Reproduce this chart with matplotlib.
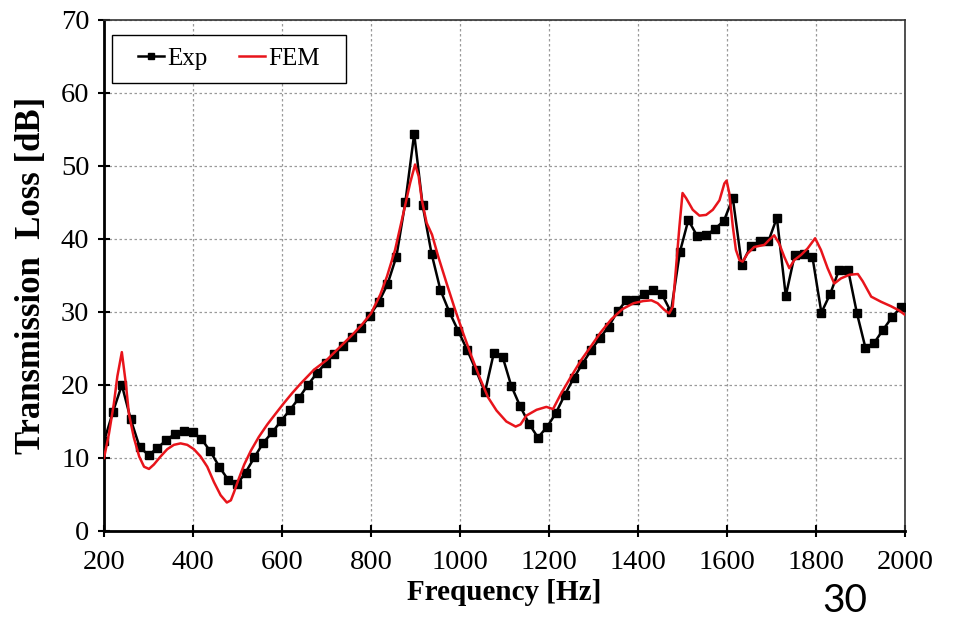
import matplotlib
matplotlib.use("Agg")
import matplotlib.pyplot as plt
from matplotlib.patches import Rectangle

# Measured transmission loss (markers every ~20 Hz)
exp_freq = [200, 220, 240, 260, 280, 300, 319, 339, 359, 379, 399, 419, 439, 459, 479,
            499, 518, 538, 558, 578, 598, 618, 638, 658, 678, 698, 717, 737, 757, 777,
            797, 817, 837, 857, 877, 897, 916, 936, 956, 976, 996, 1016, 1036, 1056,
            1076, 1096, 1115, 1135, 1155, 1175, 1195, 1215, 1235, 1255, 1275, 1295,
            1314, 1334, 1354, 1374, 1394, 1414, 1434, 1454, 1474, 1494, 1513, 1533,
            1553, 1573, 1593, 1613, 1633, 1653, 1673, 1693, 1712, 1732, 1752, 1772,
            1792, 1812, 1832, 1852, 1872, 1892, 1911, 1931, 1951, 1971, 1991]
exp_tl = [12.3, 16.3, 20.0, 15.3, 11.5, 10.4, 11.3, 12.4, 13.3, 13.7, 13.5, 12.6, 10.9,
          8.8, 7.0, 6.4, 8.0, 10.1, 12.1, 13.5, 15.1, 16.6, 18.2, 20.0, 21.6, 23.0, 24.2,
          25.3, 26.6, 27.8, 29.5, 31.3, 33.8, 37.6, 45.0, 54.4, 44.6, 38.0, 33.0, 30.0,
          27.4, 24.8, 22.0, 19.0, 24.4, 23.8, 19.9, 17.1, 14.7, 12.8, 14.2, 16.1, 18.6,
          20.9, 22.9, 24.8, 26.4, 28.0, 30.1, 31.6, 31.7, 32.5, 33.0, 32.4, 30.0, 38.2,
          42.6, 40.4, 40.5, 41.4, 42.5, 45.6, 36.5, 39.0, 39.7, 39.7, 42.9, 32.2, 37.8,
          38.0, 37.5, 29.9, 32.5, 35.8, 35.8, 29.8, 25.1, 25.8, 27.6, 29.3, 30.7]

# Finite element prediction
fem_freq = [200, 211, 222, 230, 240, 249, 256, 267, 279, 290, 301, 312, 327, 342, 357,
            372, 387, 402, 417, 432, 447, 462, 476, 485, 492, 503, 515, 530, 548, 567,
            586, 604, 623, 642, 672, 700, 720, 740, 760, 780, 800, 821, 836, 854, 873,
            888, 899, 907, 914, 925, 937, 951, 970, 989, 1007, 1026, 1045, 1063, 1082,
            1104, 1125, 1136, 1149, 1172, 1194, 1209, 1226, 1248, 1271, 1293, 1316,
            1340, 1365, 1390, 1412, 1430, 1444, 1459, 1470, 1478, 1485, 1493, 1500,
            1508, 1523, 1538, 1553, 1568, 1583, 1594, 1599, 1605, 1613, 1620, 1628,
            1635, 1646, 1661, 1684, 1695, 1706, 1717, 1729, 1740, 1751, 1766, 1781,
            1798, 1811, 1826, 1841, 1856, 1875, 1894, 1905, 1924, 1946, 1968, 1987, 2000]
fem_tl = [10.0, 13.3, 17.4, 21.2, 24.5, 20.2, 16.0, 12.8, 10.2, 8.8, 8.5, 9.1, 10.2,
          11.2, 11.8, 12.0, 11.8, 11.2, 10.2, 8.8, 6.7, 4.9, 3.9, 4.2, 5.3, 7.2, 9.1,
          11.0, 12.9, 14.6, 16.1, 17.5, 18.9, 20.2, 22.1, 23.4, 24.6, 25.8, 27.0, 28.3,
          29.8, 32.4, 34.9, 38.5, 43.6, 47.7, 50.2, 48.6, 45.4, 42.2, 40.6, 37.6, 33.9,
          30.3, 27.1, 23.9, 20.9, 18.3, 16.5, 15.0, 14.3, 14.6, 15.8, 16.6, 17.0, 16.7,
          18.7, 21.0, 23.3, 25.2, 27.2, 29.0, 30.4, 31.2, 31.5, 31.6, 31.2, 30.3, 29.8,
          30.7, 35.8, 41.7, 46.3, 45.6, 44.0, 43.2, 43.3, 44.0, 45.3, 47.6, 48.0, 46.3,
          41.7, 38.5, 37.1, 36.9, 38.0, 38.9, 39.2, 39.9, 40.5, 39.4, 37.5, 36.0, 37.1,
          37.8, 38.7, 40.1, 38.5, 36.0, 33.9, 34.6, 35.1, 35.2, 34.2, 32.1, 31.4, 30.8,
          30.2, 29.6]

x_ticks = [200, 400, 600, 800, 1000, 1200, 1400, 1600, 1800, 2000]
y_ticks = [0, 10, 20, 30, 40, 50, 60, 70]

serif = ["Liberation Serif", "DejaVu Serif"]

fig = plt.figure(figsize=(9.57, 6.19), dpi=100)
ax = fig.add_axes([0.1087, 0.1422, 0.837, 0.8255])

ax.plot(exp_freq, exp_tl, color="black", lw=1.8, marker="s", ms=5.5,
        mfc="black", mec="black", label="Exp", zorder=3)
ax.plot(fem_freq, fem_tl, color="#e8141b", lw=1.8, label="FEM", zorder=4)

ax.set_xlim(200, 2000)
ax.set_ylim(0, 70)
ax.set_xticks(x_ticks)
ax.set_yticks(y_ticks)
ax.grid(True, color="#9a9a9a", linestyle=(0, (2, 2)), linewidth=0.9)
ax.set_axisbelow(True)

for side in ("top", "right"):
    ax.spines[side].set_linewidth(1.2)
    ax.spines[side].set_color("#333333")
for side in ("left", "bottom"):
    ax.spines[side].set_linewidth(2.0)
    ax.spines[side].set_color("black")

ax.tick_params(axis="both", direction="inout", length=9, width=1.5,
               labelsize=20.5)
ax.tick_params(axis="x", pad=9)
ax.tick_params(axis="y", pad=6)
for lbl in ax.get_xticklabels() + ax.get_yticklabels():
    lbl.set_fontfamily(serif)

ax.set_xlabel("Frequency [Hz]", fontsize=21, fontweight="bold",
              fontfamily=serif, labelpad=3)
ax.set_ylabel("Transmission  Loss [dB]", fontsize=25, fontweight="bold",
              fontfamily=serif, labelpad=9)

# Legend box drawn separately so the side padding can be wider
ax.add_patch(Rectangle((0.010, 0.8767), 0.292, 0.094, transform=ax.transAxes,
                       facecolor="white", edgecolor="black", linewidth=1.0,
                       zorder=6))
leg = ax.legend(loc="center", bbox_to_anchor=(0.156, 0.9237), ncol=2,
                frameon=False, prop={"family": serif, "size": 18},
                handlelength=1.05, handletextpad=0.12, columnspacing=1.25,
                borderpad=0.2)
leg.set_zorder(7)
for h in leg.legend_handles:
    h.set_markersize(4)

fig.text(0.883, 0.012, "30", fontsize=28, fontfamily=["Lato", "DejaVu Sans"],
         ha="center", va="baseline")

fig.savefig("out.png", dpi=100, facecolor="white")
